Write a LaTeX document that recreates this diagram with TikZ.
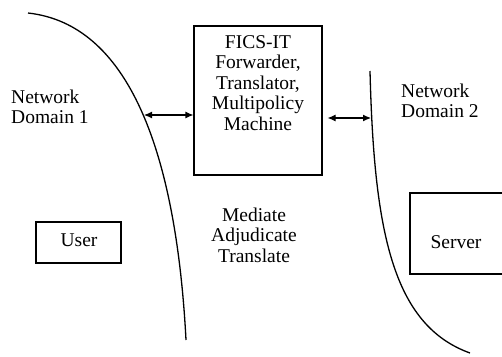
\documentclass[tikz,border=0pt]{standalone}
\usepackage{fontspec}
\setmainfont{Liberation Serif}
\usetikzlibrary{arrows.meta}
\begin{document}
\begin{tikzpicture}[x=1pt,y=-1pt,
  boxst/.style={draw,line width=1.1pt,inner sep=0pt},
  txt/.style={align=center,inner sep=0pt,font=\fontsize{19.5}{20.5}\selectfont},
  boundary/.style={line width=1.3pt},
  link/.style={line width=1.1pt,{Latex[length=8pt,width=7pt]}-{Latex[length=8pt,width=7pt]}}]
\useasboundingbox (0,0) rectangle (502,356);
% domain boundaries
\draw[boundary] (28,13) .. controls (128,24) and (176,150) .. (186,340);
\draw[boundary] (370,71) .. controls (374,230) and (392,325) .. (470,353);
\coordinate (c1) at (144,115);
\coordinate (c2) at (371,118);
% boxes
\node[boxst,minimum width=128pt,minimum height=149pt] (fics) at (258,100.5) {};
\node[txt] (ficstext) at (258,83) {FICS-IT\\Forwarder,\\Translator,\\Multipolicy\\Machine};
\node[boxst,minimum width=85pt,minimum height=41pt] (user) at (78.5,242.5) {};
\node[txt] (usertext) at (79,240) {User};
\begin{scope}
\clip (0,0) rectangle (502,356);
\node[boxst,minimum width=110pt,minimum height=81pt] (server) at (465,233.5) {};
\end{scope}
\node[txt] (servertext) at (456,242) {Server};
% labels
\node[txt,align=left,anchor=west] (nd1) at (11,107) {Network\\Domain 1};
\node[txt,align=left,anchor=west] (nd2) at (401,101) {Network\\Domain 2};
\node[txt] (mat) at (254,235) {Mediate\\Adjudicate\\Translate};
% connectors
\draw[link] (c1) -- (fics.west |- c1);
\draw[link,shorten <=5pt] (fics.east |- c2) -- (c2);
\end{tikzpicture}
\end{document}
